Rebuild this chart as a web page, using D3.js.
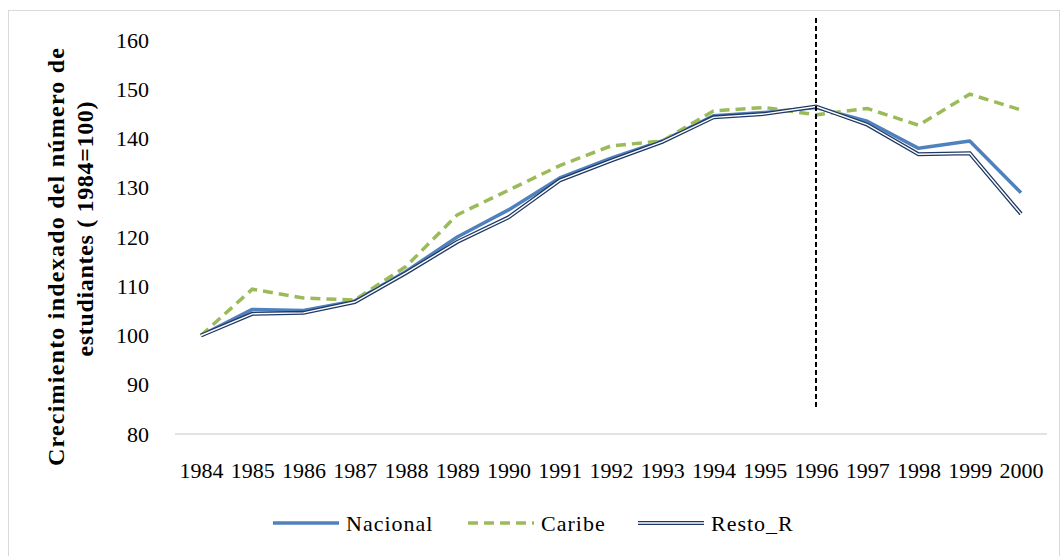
<!DOCTYPE html>
<html>
<head>
<meta charset="utf-8">
<script src="https://cdn.jsdelivr.net/npm/d3@7"></script>
<style>
  body { margin: 0; background: white; }
  svg text { font-family: "Liberation Serif", "DejaVu Serif"; fill: #000; }
</style>
</head>
<body>
<script>
const years = [1984, 1985, 1986, 1987, 1988, 1989, 1990, 1991, 1992, 1993, 1994, 1995, 1996, 1997, 1998, 1999, 2000];
const nacional = [100, 105.3, 105.1, 107, 113, 120, 125.5, 132, 136, 139.5, 144.6, 145.3, 146.3, 143.5, 138, 139.5, 129];
const caribe = [100, 109.4, 107.6, 107.2, 114, 124.5, 129.5, 134.5, 138.5, 139.5, 145.6, 146.3, 144.8, 146.1, 142.7, 149, 145.8];
const resto = [100, 104.4, 104.6, 106.8, 112.7, 119, 124, 131.5, 135.5, 139.3, 144.3, 145, 146.5, 142.8, 136.8, 137, 124.7];
const yTicks = [80, 90, 100, 110, 120, 130, 140, 150, 160];
const markYear = 1996;

const width = 1063, height = 556;
const svg = d3.select("body").append("svg")
    .attr("width", width)
    .attr("height", height);

// chart border
svg.append("rect")
    .attr("x", 8.5).attr("y", 10.5)
    .attr("width", 1051).attr("height", 560)
    .attr("fill", "white")
    .attr("stroke", "#d9d9d9");

const x = d3.scalePoint().domain(years).range([201, 1021]);
const y = d3.scaleLinear().domain([80, 160]).range([434, 40]);

// baseline
svg.append("line")
    .attr("x1", 175).attr("x2", 1047)
    .attr("y1", y(80)).attr("y2", y(80))
    .attr("stroke", "#d9d9d9").attr("stroke-width", 1.5);

const xAxis = svg.append("g")
    .attr("transform", `translate(0,${y(80)})`)
    .call(d3.axisBottom(x).tickSize(0).tickPadding(28));
xAxis.attr("font-family", null).attr("font-size", 22);
xAxis.select(".domain").remove();

const yAxis = svg.append("g")
    .attr("transform", "translate(149,0)")
    .call(d3.axisLeft(y).tickValues(yTicks).tickSize(0).tickPadding(0));
yAxis.attr("font-family", null).attr("font-size", 22);
yAxis.select(".domain").remove();

// axis title (two lines, rotated)
const title = svg.append("text")
    .attr("transform", "rotate(-90)")
    .attr("text-anchor", "middle")
    .attr("font-weight", "bold")
    .attr("font-size", 24);
title.append("tspan").attr("x", -257).attr("y", 64)
    .attr("textLength", 418).attr("lengthAdjust", "spacing")
    .text("Crecimiento indexado del número de");
title.append("tspan").attr("x", -229).attr("y", 93)
    .attr("textLength", 255).attr("lengthAdjust", "spacing")
    .text("estudiantes ( 1984=100)");

const line = vals => d3.line()
    .x((d, i) => x(years[i]))
    .y(d => y(d))(vals);

svg.append("path").attr("d", line(nacional))
    .attr("fill", "none").attr("stroke", "#4f81bd").attr("stroke-width", 3.5)
    .attr("stroke-linejoin", "round");
svg.append("path").attr("d", line(caribe))
    .attr("fill", "none").attr("stroke", "#9bbb59").attr("stroke-width", 3.5)
    .attr("stroke-dasharray", "10,6");
svg.append("path").attr("d", line(resto))
    .attr("fill", "none").attr("stroke", "#1f3864").attr("stroke-width", 4);
svg.append("path").attr("d", line(resto))
    .attr("fill", "none").attr("stroke", "white").attr("stroke-width", 1.4);

// vertical marker
svg.append("line")
    .attr("x1", x(markYear)).attr("x2", x(markYear))
    .attr("y1", 18).attr("y2", 408)
    .attr("stroke", "black").attr("stroke-width", 2)
    .attr("stroke-dasharray", "5,3");

// legend
const legend = [
  { name: "Nacional", x: 273 },
  { name: "Caribe", x: 468 },
  { name: "Resto_R", x: 638 }
];
const ly = 523;
legend.forEach((l, i) => {
  if (i === 0) {
    svg.append("line").attr("x1", l.x).attr("x2", l.x + 66).attr("y1", ly).attr("y2", ly)
      .attr("stroke", "#4f81bd").attr("stroke-width", 3.5);
  } else if (i === 1) {
    svg.append("line").attr("x1", l.x).attr("x2", l.x + 66).attr("y1", ly).attr("y2", ly)
      .attr("stroke", "#9bbb59").attr("stroke-width", 3.5).attr("stroke-dasharray", "10,6");
  } else {
    svg.append("line").attr("x1", l.x).attr("x2", l.x + 66).attr("y1", ly).attr("y2", ly)
      .attr("stroke", "#1f3864").attr("stroke-width", 4);
    svg.append("line").attr("x1", l.x).attr("x2", l.x + 66).attr("y1", ly).attr("y2", ly)
      .attr("stroke", "white").attr("stroke-width", 1.4);
  }
  svg.append("text").attr("x", l.x + 73).attr("y", ly).attr("dy", "0.35em")
    .attr("font-size", 22).attr("letter-spacing", 1).text(l.name);
});
</script>
</body>
</html>
